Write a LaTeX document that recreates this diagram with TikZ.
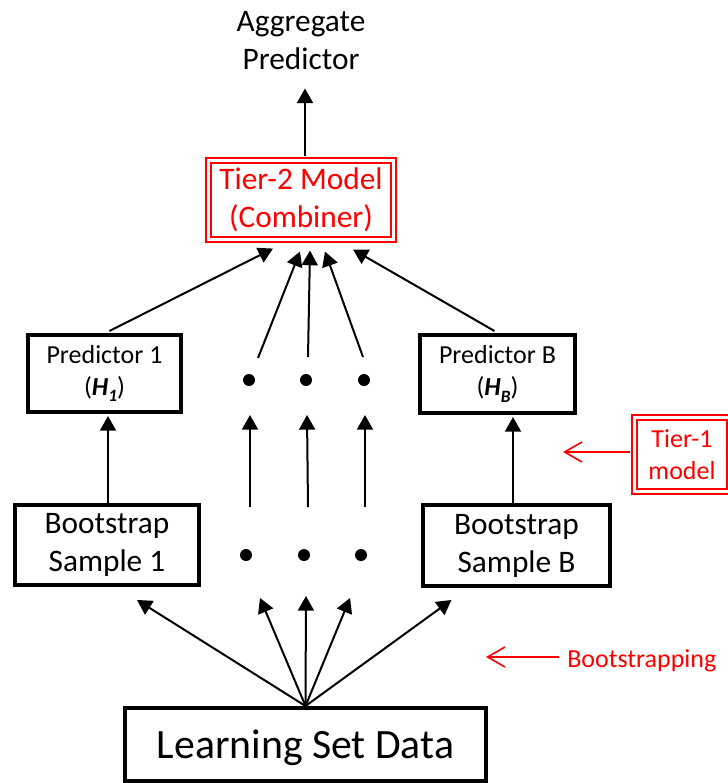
\documentclass[tikz,border=0pt]{standalone}
\usepackage{fontspec}
\setmainfont{Carlito}
\usetikzlibrary{arrows.meta,calc}

\newcommand{\hsub}[1]{(\textbf{\textit{H}}\raisebox{-0.5ex}{\fontsize{13}{13}\selectfont\textbf{\textit{#1}}})}

\begin{document}
\begin{tikzpicture}[x=0.75pt,y=-0.75pt,
  every node/.style={inner sep=0pt,align=center},
  box/.style={draw,line width=3pt},
  redbox/.style={draw=red,text=red,double,line width=1.6pt,double distance=2pt},
  arr/.style={line width=1.5pt,-{Triangle[length=11pt,width=12pt]}},
  redarr/.style={red,line width=1.2pt,-{Straight Barb[length=13pt,width=15pt]}},
  blob/.style={circle,fill=black,minimum size=9pt},
  big/.style={font=\fontsize{31.3}{38}\selectfont},
  mid/.style={font=\fontsize{23.5}{28.5}\selectfont},
  small/.style={font=\fontsize{19.5}{24}\selectfont}]
\useasboundingbox (0,0) rectangle (728,783);

\node[mid] (agg) at (301,41) {Aggregate\\Predictor};
\node[redbox,mid,minimum width=138.75pt,minimum height=59.25pt] (tier2) at (301,200) {Tier-2 Model\\(Combiner)};
\node[box,small,minimum width=114.75pt,minimum height=57.75pt] (pred1) at (104.5,373.5) {Predictor 1\\\hsub{1}};
\node[box,small,minimum width=116.25pt,minimum height=58.5pt] (predB) at (497.5,374) {Predictor B\\\hsub{B}};
\node[box,mid,minimum width=138pt,minimum height=60pt] (boot1) at (107,545) {Bootstrap\\Sample 1};
\node[box,mid,minimum width=140.25pt,minimum height=60.75pt] (bootB) at (516.5,545.5) {Bootstrap\\Sample B};
\node[box,big,text depth=0pt,minimum width=270.75pt,minimum height=54.75pt] (learn) at (305.5,744.5) {Learning Set Data};
\node[redbox,small,minimum width=71.25pt,minimum height=55.5pt] (tier1) at (682,454.5) {Tier-1\\model};
\node[small,text=red,anchor=base west] (bs) at (567,667) {Bootstrapping};

\foreach \i/\x in {1/249,2/306,3/364} \node[blob] (d1\i) at (\x,380) {};
\foreach \i/\x in {1/246,2/304,3/361} \node[blob] (d2\i) at (\x,555) {};

% tier 2 and output
\draw[arr] ($(tier2.north)+(4,-3)$) -- ($(agg.south)+(4,18)$);
\draw[arr] ($(pred1.north)+(5,-2)$) -- ($(tier2.south)+(-28,8)$);
\draw[arr] ($(d11)+(9,-22)$) -- ($(tier2.south)+(-1,11)$);
\draw[arr] ($(d12)+(2,-23)$) -- ($(tier2.south)+(9,10)$);
\draw[arr] ($(d13)+(-1,-23)$) -- ($(tier2.south)+(24,11)$);
\draw[arr] ($(predB.north)+(-3,-2)$) -- ($(tier2.south)+(52,9)$);

% tier 1
\draw[arr] ($(boot1.north)+(1,0)$) -- ($(boot1.north |- pred1.south)+(1,2)$);
\draw[arr] ($(bootB.north)+(-3.5,0)$) -- ($(bootB.north |- predB.south)+(-3.5,2)$);
\foreach \i in {1,2,3} \draw[arr] ($(d2\i)+(4,-48)$) -- ($(d1\i)+(1,35)$);

% bootstrapping
\draw[arr] (learn.north) -- ($(boot1.south)+(30,13)$);
\draw[arr] (learn.north) -- ($(d21)+(14,43)$);
\draw[arr] (learn.north) -- ($(d22)+(2,41)$);
\draw[arr] (learn.north) -- ($(d23)+(-11,43)$);
\draw[arr] (learn.north) -- ($(bootB.south)+(-65,12)$);

\coordinate (t1tip) at (563,452);
\draw[redarr] ($(tier1.west |- t1tip)+(-3.5,0)$) -- (t1tip);
\coordinate (bstip) at (486,657);
\draw[redarr] ($(bs.west |- bstip)+(-8,0)$) -- (bstip);
\end{tikzpicture}
\end{document}
